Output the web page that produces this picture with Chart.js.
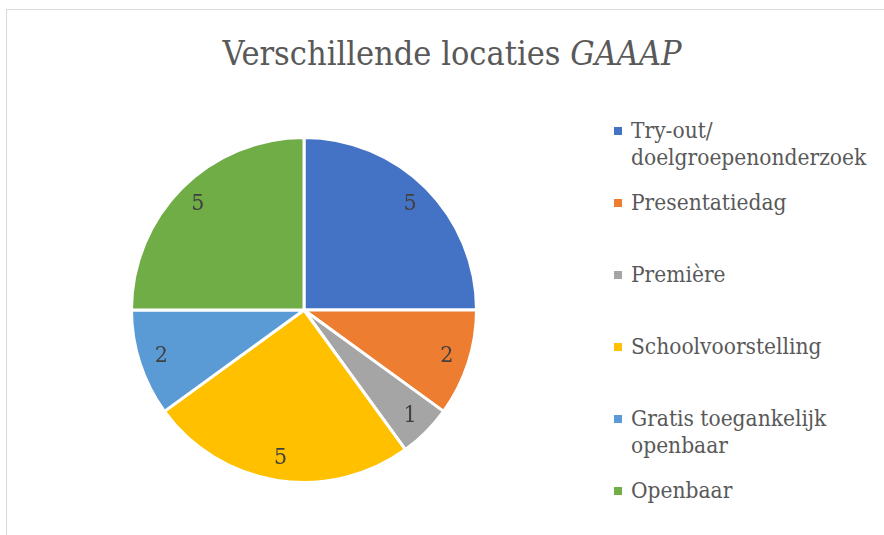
<!DOCTYPE html>
<html>
<head>
<meta charset="utf-8">
<script src="https://cdn.jsdelivr.net/npm/chart.js@4"></script>
<style>
    html, body { margin: 0; padding: 0; background: #fff; }
    body { width: 884px; height: 535px; position: relative; overflow: hidden;
           font-family: 'DejaVu Serif Condensed', 'DejaVu Serif', serif; font-stretch: condensed; color: #595959; }
    #frame { position: absolute; left: 6px; top: 9px; width: 900px; height: 600px; border: 1px solid #d9d9d9; box-sizing: border-box; }
    #title { position: absolute; left: 452px; top: 28px; transform: translateX(-50%); white-space: nowrap;
             font-size: 34px; line-height: 50px; }
    #chartBox { position: absolute; left: 130px; top: 136px; width: 348px; height: 348px; }
    #legend { position: absolute; left: 614px; top: 117px; }
    .item { height: 72px; position: relative; }
    .item .box { position: absolute; left: 0; top: 10px; width: 8px; height: 8px; }
    .item .txt { position: absolute; left: 17px; top: 0; white-space: pre; font-size: 22.5px; line-height: 27px; }
</style>
</head>
<body>
<div id="frame"></div>
<div id="title">Verschillende locaties <i>GAAAP</i></div>
<div id="chartBox"><canvas id="pie"></canvas></div>
<div id="legend"></div>
<script>
// categories and values
const categories = ['Try-out/\ndoelgroepenonderzoek', 'Presentatiedag', 'Première', 'Schoolvoorstelling', 'Gratis toegankelijk\nopenbaar', 'Openbaar'];
const counts = [5, 2, 1, 5, 2, 5];
const sliceColors = ['#4472C4', '#ED7D31', '#A5A5A5', '#FFC000', '#5B9BD5', '#70AD47'];

// draws the value inside each slice, like Excel data labels
const sliceLabels = {
    id: 'sliceLabels',
    afterDatasetsDraw(chart) {
        const ctx = chart.ctx;
        const meta = chart.getDatasetMeta(0);
        ctx.save();
        ctx.font = '23px "DejaVu Serif Condensed", "DejaVu Serif", serif';
        ctx.fillStyle = '#404040';
        ctx.textAlign = 'center';
        ctx.textBaseline = 'middle';
        meta.data.forEach((arc, i) => {
            const p = arc.getProps(['x', 'y', 'startAngle', 'endAngle', 'outerRadius'], true);
            const mid = (p.startAngle + p.endAngle) / 2;
            const r = p.outerRadius * 0.87;
            ctx.fillText(String(counts[i]), p.x + Math.cos(mid) * r, p.y + Math.sin(mid) * r);
        });
        ctx.restore();
    }
};

function buildLegend() {
    const legend = document.getElementById('legend');
    categories.forEach((name, i) => {
        const item = document.createElement('div');
        item.className = 'item';
        const box = document.createElement('div');
        box.className = 'box';
        box.style.background = sliceColors[i];
        const txt = document.createElement('div');
        txt.className = 'txt';
        txt.textContent = name;
        item.appendChild(box);
        item.appendChild(txt);
        legend.appendChild(item);
    });
}

document.addEventListener('DOMContentLoaded', () => {
    buildLegend();
    const ctx = document.getElementById('pie').getContext('2d');
    new Chart(ctx, {
        type: 'pie',
        data: {
            labels: categories,
            datasets: [{
                data: counts,
                backgroundColor: sliceColors,
                borderColor: '#ffffff',
                borderWidth: 3
            }]
        },
        options: {
            responsive: true,
            maintainAspectRatio: false,
            animation: false,
            layout: { padding: 0 },
            plugins: {
                legend: { display: false },
                title: { display: false },
                tooltip: { enabled: false }
            }
        },
        plugins: [sliceLabels]
    });
});
</script>
</body>
</html>
